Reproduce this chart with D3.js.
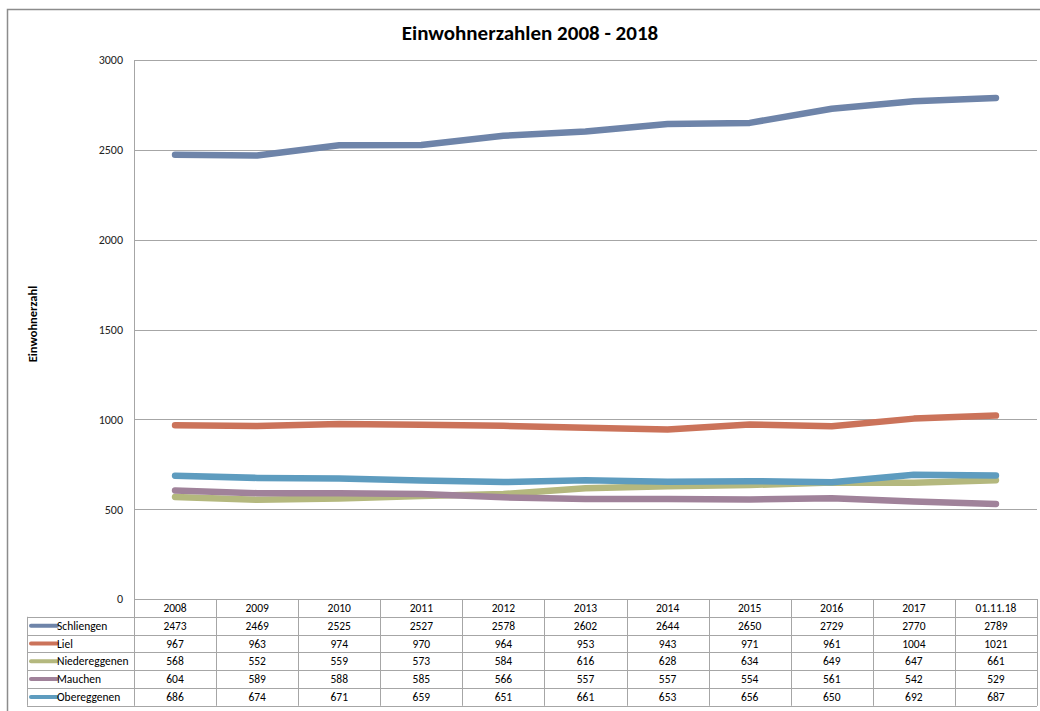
<!DOCTYPE html>
<html><head><meta charset="utf-8">
<script src="https://cdn.jsdelivr.net/npm/d3@7"></script>
<style>body{margin:0;background:#fff;} svg{display:block;}</style>
</head><body>
<svg id="c" width="1040" height="711"></svg>
<script>
const categories = ["2008","2009","2010","2011","2012","2013","2014","2015","2016","2017","01.11.18"];
const seriesNames = ["Schliengen","Liel","Niedereggenen","Mauchen","Obereggenen"];
const schliengen = [2473,2469,2525,2527,2578,2602,2644,2650,2729,2770,2789];
const liel = [967,963,974,970,964,953,943,971,961,1004,1021];
const niedereggenen = [568,552,559,573,584,616,628,634,649,647,661];
const mauchen = [604,589,588,585,566,557,557,554,561,542,529];
const obereggenen = [686,674,671,659,651,661,653,656,650,692,687];
const yTicks = [0,500,1000,1500,2000,2500,3000];
const colors = ["#6e84a9","#cb735a","#b4b87e","#a0829a","#5e9cbf"];

const values = [schliengen, liel, niedereggenen, mauchen, obereggenen];
const font = "Carlito, Calibri, 'Open Sans', sans-serif";
const svg = d3.select("#c");
const L = 134, R = 1037, T = 60, B = 599;
const rowH = 17.8;

// outer frame
svg.append("path").attr("d", `M7.5,711 V9.5 H1040`).attr("fill","none").attr("stroke","#8c8c8c").attr("stroke-width",1.5);

const x = d3.scaleBand().domain(categories).range([L, R]);
const y = d3.scaleLinear().domain([0,3000]).range([B, T]);

// title
svg.append("text").attr("x", 530).attr("y", 40).attr("text-anchor","middle")
  .attr("font-family", font).attr("font-weight","bold").attr("font-size", 21).text("Einwohnerzahlen 2008 - 2018");

// gridlines
svg.append("g").selectAll("line").data(yTicks).join("line")
  .attr("x1", L).attr("x2", R).attr("y1", d=>Math.round(y(d))+0.5).attr("y2", d=>Math.round(y(d))+0.5)
  .attr("stroke", "#a6a6a6").attr("stroke-width",1);
svg.append("line").attr("x1", L+0.5).attr("x2", L+0.5).attr("y1", T).attr("y2", B).attr("stroke","#a6a6a6");

// y axis
const yAxis = d3.axisLeft(y).tickValues(yTicks).tickSize(0).tickPadding(11).tickFormat(d3.format("d"));
const gy = svg.append("g").attr("transform", `translate(${L},0)`).call(yAxis);
gy.select(".domain").remove();
gy.selectAll("text").attr("font-family", font).attr("font-size", 12).attr("fill","#222");

svg.append("text").attr("transform", `translate(37,324) rotate(-90)`).attr("text-anchor","middle")
  .attr("font-family", font).attr("font-weight","bold").attr("font-size", 12.5).text("Einwohnerzahl");

// lines
const line = d3.line().x((d,i)=>x(categories[i]) + x.bandwidth()/2).y(d=>y(d));
svg.append("g").selectAll("path").data(values).join("path")
  .attr("d", d=>line(d)).attr("fill","none").attr("stroke",(d,i)=>colors[i])
  .attr("stroke-width", 6.5).attr("stroke-linecap","round").attr("stroke-linejoin","round");

// data table
const tb = svg.append("g");
const gridCol = "#a6a6a6";
const tableBottom = B + rowH * 6;
for (let r = 1; r <= 6; r++) {
  tb.append("line").attr("x1", 27).attr("x2", R).attr("y1", Math.round(B + rowH*r)+0.5).attr("y2", Math.round(B + rowH*r)+0.5).attr("stroke", gridCol);
}
tb.append("line").attr("x1", 27.5).attr("x2", 27.5).attr("y1", B + rowH).attr("y2", tableBottom).attr("stroke", gridCol);
categories.forEach(c => {
  const xx = Math.round(x(c)) + 0.5;
  tb.append("line").attr("x1", xx).attr("x2", xx).attr("y1", B).attr("y2", tableBottom).attr("stroke", gridCol);
});
tb.append("line").attr("x1", R+0.5).attr("x2", R+0.5).attr("y1", B).attr("y2", tableBottom).attr("stroke", gridCol);
tb.selectAll("text.h").data(categories).join("text").attr("class","h")
  .attr("x", d=>x(d)+x.bandwidth()/2).attr("y", B + rowH/2 + 4).attr("text-anchor","middle")
  .attr("font-family", font).attr("font-size", 11.5).text(d=>d);
seriesNames.forEach((name, i) => {
  const yy = B + rowH*(i+1);
  tb.append("line").attr("x1", 31).attr("x2", 57).attr("y1", yy + rowH/2).attr("y2", yy + rowH/2)
    .attr("stroke", colors[i]).attr("stroke-width", 4).attr("stroke-linecap","round");
  tb.append("text").attr("x", 57).attr("y", yy + rowH/2 + 4).attr("font-family", font).attr("font-size", 11.5).text(name);
  tb.selectAll("text.v"+i).data(values[i]).join("text").attr("class","v"+i)
    .attr("x", (d,j)=>x(categories[j])+x.bandwidth()/2).attr("y", yy + rowH/2 + 4).attr("text-anchor","middle")
    .attr("font-family", font).attr("font-size", 11.5).text(d=>d);
});
</script>
</body></html>
